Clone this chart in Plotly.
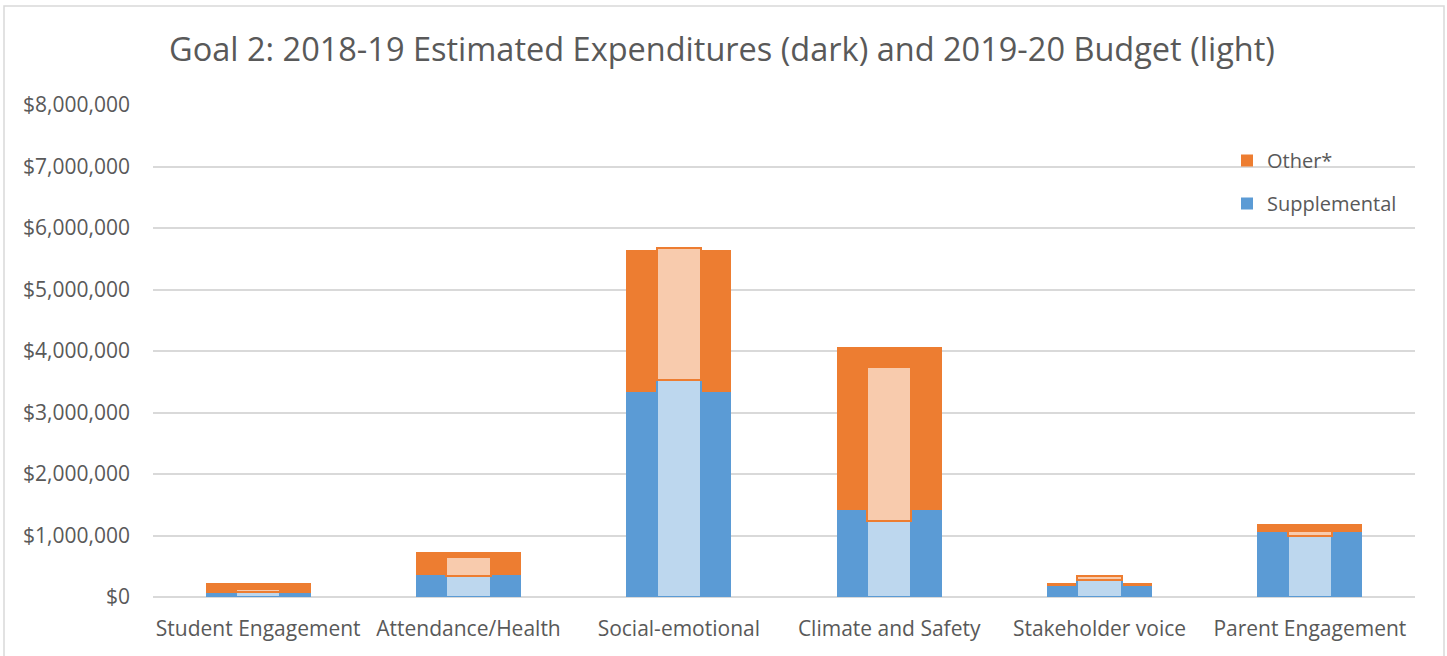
import plotly.graph_objects as go

categories = ["Student Engagement", "Attendance/Health", "Social-emotional",
              "Climate and Safety", "Stakeholder voice", "Parent Engagement"]
supp_1819 = [70000, 353000, 3330000, 1415000, 184000, 1060000]
other_1819 = [153000, 377000, 2310000, 2655000, 44000, 130000]
supp_1920 = [80000, 340000, 3530000, 1240000, 276000, 987000]
other_1920 = [50000, 310000, 2140000, 2505000, 61000, 83000]
y_ticks = [0, 1000000, 2000000, 3000000, 4000000, 5000000, 6000000, 7000000, 8000000]
y_tick_labels = ["$0", "$1,000,000", "$2,000,000", "$3,000,000", "$4,000,000",
                 "$5,000,000", "$6,000,000", "$7,000,000", "$8,000,000"]

BLUE = "#5b9bd5"
ORANGE = "#ed7d31"
LBLUE = "#bdd7ee"
LORANGE = "#f8cbad"
GRID = "#d9d9d9"
TXT = "#595959"
FONT = "Open Sans"

fig = go.Figure()
fig.add_trace(go.Bar(x=categories, y=supp_1819, base=[0]*6, width=0.5,
                     marker=dict(color=BLUE, line=dict(width=0)),
                     name="Supplemental", legendgroup="s", legendrank=2))
fig.add_trace(go.Bar(x=categories, y=other_1819, base=supp_1819, width=0.5,
                     marker=dict(color=ORANGE, line=dict(width=0)),
                     name="Other*", legendgroup="o", legendrank=1))
fig.add_trace(go.Bar(x=categories, y=supp_1920, base=[0]*6, width=0.21,
                     marker=dict(color=LBLUE, line=dict(color=BLUE, width=2)),
                     name="Supplemental 2019-20", showlegend=False))
fig.add_trace(go.Bar(x=categories, y=other_1920, base=supp_1920, width=0.21,
                     marker=dict(color=LORANGE, line=dict(color=ORANGE, width=2)),
                     name="Other* 2019-20", showlegend=False))

W, H = 1447, 656
L, R, T, B = 153, 1415, 105, 597
pw, ph = R - L, B - T

def px(x):
    return (x - L) / pw

def py(y):
    return (B - y) / ph

fig.add_shape(type="rect", xref="paper", yref="paper",
              x0=px(4), x1=px(1444), y0=py(660), y1=py(6),
              line=dict(color=GRID, width=1.5), fillcolor="rgba(0,0,0,0)", layer="below")

fig.update_layout(
    width=W, height=H,
    margin=dict(l=L, r=W - R, t=T, b=H - B),
    barmode="overlay",
    bargap=0,
    plot_bgcolor="white", paper_bgcolor="white",
    font=dict(family=FONT, color=TXT, size=21),
    title=dict(text="Goal 2: 2018-19 Estimated Expenditures (dark) and 2019-20 Budget (light)",
               x=px(722), xref="paper", xanchor="center",
               y=1 - 50 / H, yanchor="middle", yref="container",
               font=dict(family=FONT, size=32.5, color=TXT)),
    showlegend=True,
    legend=dict(x=px(1227), y=py(141), xanchor="left", yanchor="top",
                bgcolor="rgba(0,0,0,0)", font=dict(size=20, color=TXT),
                tracegroupgap=14, itemwidth=30),
    xaxis=dict(showgrid=False, showline=False, zeroline=False, ticks="",
               tickfont=dict(size=21, color=TXT), ticklen=0,
               ticklabelstandoff=17),
    yaxis=dict(range=[0, 8000000], tickvals=y_ticks, ticktext=y_tick_labels,
               showgrid=True, gridcolor=GRID, gridwidth=1.5,
               zeroline=True, zerolinecolor=GRID, zerolinewidth=2,
               showline=False, ticks="", tickfont=dict(size=21, color=TXT),
               ticklabelstandoff=22),
)

fig.write_html("out.html")
